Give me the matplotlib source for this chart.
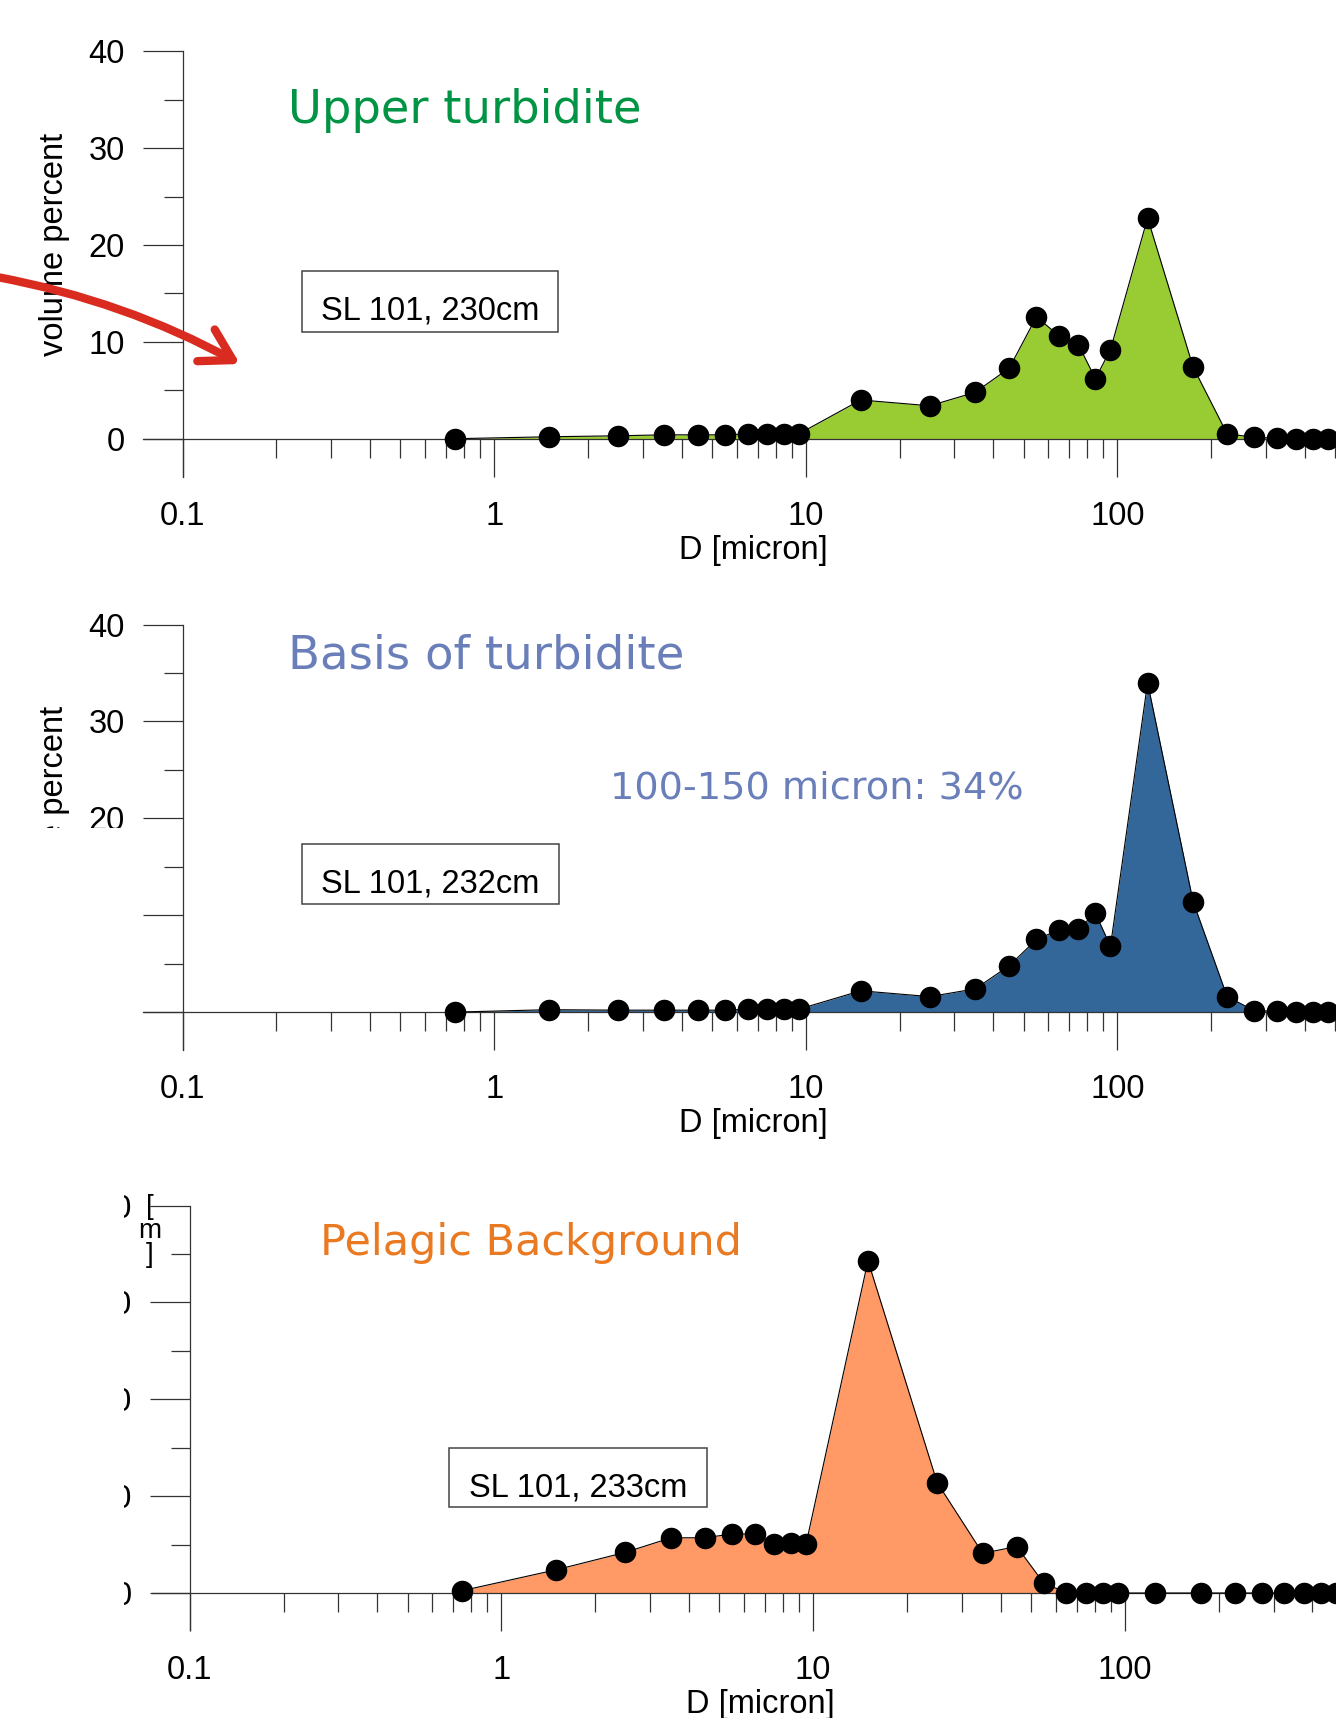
import matplotlib
matplotlib.use("Agg")
import matplotlib.pyplot as plt
from matplotlib.patches import Rectangle, FancyArrowPatch
from matplotlib.ticker import FixedLocator, FuncFormatter, NullFormatter

# ---------------------------------------------------------------------------
# Grain-size distributions, core SL 101 (volume percent per size class)
# ---------------------------------------------------------------------------
diameters = [0.75, 1.5, 2.5, 3.5, 4.5, 5.5, 6.5, 7.5, 8.5, 9.5,
             15, 25, 35, 45, 55, 65, 75, 85, 95,
             125, 175, 225, 275, 325, 375, 425, 475]

upper_turbidite = [0.0, 0.2, 0.3, 0.4, 0.4, 0.4, 0.5, 0.5, 0.5, 0.5,
                   4.0, 3.4, 4.8, 7.3, 12.6, 10.6, 9.7, 6.2, 9.2,
                   22.8, 7.4, 0.5, 0.15, 0.05, 0.0, 0.0, 0.0]

basis_turbidite = [0.0, 0.25, 0.2, 0.2, 0.2, 0.2, 0.3, 0.3, 0.3, 0.3,
                   2.2, 1.6, 2.4, 4.8, 7.5, 8.5, 8.6, 10.2, 6.8,
                   34.0, 11.4, 1.6, 0.15, 0.1, 0.0, 0.0, 0.0]

pelagic_background = [0.25, 2.4, 4.2, 5.7, 5.7, 6.1, 6.1, 5.1, 5.2, 5.1,
                      34.3, 11.4, 4.1, 4.8, 1.0, 0.05, 0.0, 0.0, 0.0,
                      0.0, 0.0, 0.0, 0.0, 0.0, 0.0, 0.0, 0.0]

titles = ["Upper turbidite", "Basis of turbidite", "Pelagic Background"]
samples = ["SL 101, 230cm", "SL 101, 232cm", "SL 101, 233cm"]
peak_note = "100-150 micron: 34%"

y_major = [0, 10, 20, 30, 40]
y_minor = [5, 15, 25, 35]
x_major = [0.1, 1, 10, 100, 1000]
x_minor = [k * 10.0 ** e for e in (-1, 0, 1, 2) for k in range(2, 10)]

# ---------------------------------------------------------------------------
W, H, DPI = 1336, 1718, 100
fig = plt.figure(figsize=(W / DPI, H / DPI), dpi=DPI)
fig.patch.set_facecolor("white")

TICK_FONT = ["Liberation Sans", "DejaVu Sans"]
TITLE_FONT = ["DejaVu Sans"]
AXIS_COLOR = "#333333"
LABEL_SIZE = 23.5


def fx(px):
    return px / W


def fy(py):
    return 1.0 - py / H


def make_panel(x01, decade, ytop, yzero, left, bottom):
    """Axes whose spines cross at D=0.1 / 0 %; the frame extends past the
    crossing point by the length of a major tick."""
    unit = (yzero - ytop) / 40.0
    ax = fig.add_axes([fx(left), fy(bottom), (W - left) / W, (bottom - ytop) / H])
    ax.set_xscale("log")
    ax.set_xlim(10 ** (-1 - (x01 - left) / decade), 10 ** (-1 + (W - x01) / decade))
    ax.set_ylim(-(bottom - yzero) / unit, 40)
    ax.patch.set_alpha(0)

    for s in ("top", "right"):
        ax.spines[s].set_visible(False)
    ax.spines["left"].set_position(("data", 0.1))
    ax.spines["bottom"].set_position(("data", 0))
    for s in ("left", "bottom"):
        ax.spines[s].set_color(AXIS_COLOR)
        ax.spines[s].set_linewidth(0.9)

    ax.yaxis.set_major_locator(FixedLocator(y_major))
    ax.yaxis.set_minor_locator(FixedLocator(y_minor))
    ax.xaxis.set_major_locator(FixedLocator(x_major))
    ax.xaxis.set_minor_locator(FixedLocator(x_minor))
    ax.xaxis.set_major_formatter(FuncFormatter(lambda v, p: f"{v:g}"))
    ax.xaxis.set_minor_formatter(NullFormatter())

    ax.tick_params(axis="y", which="major", direction="out", length=28.5,
                   width=0.9, color=AXIS_COLOR, pad=13.0, labelsize=LABEL_SIZE)
    ax.tick_params(axis="y", which="minor", direction="out", length=13.5,
                   width=0.9, color=AXIS_COLOR)
    ax.tick_params(axis="x", which="major", direction="out", length=27.2,
                   width=0.9, color=AXIS_COLOR, pad=17.5, labelsize=LABEL_SIZE)
    ax.tick_params(axis="x", which="minor", direction="out", length=13.5,
                   width=0.9, color=AXIS_COLOR)
    for lab in ax.get_xticklabels() + ax.get_yticklabels():
        lab.set_family(TICK_FONT)
    return ax


def draw_series(ax, values, fill):
    ax.fill_between(diameters, values, 0, color=fill, linewidth=0, zorder=1)
    ax.plot(diameters, values, color="black", lw=0.8, marker="o", ms=14.5,
            mfc="black", mec="black", zorder=3)


def sample_box(x0, y0, x1, y1, baseline, text):
    fig.add_artist(Rectangle((fx(x0), fy(y1)), (x1 - x0) / W, (y1 - y0) / H,
                             transform=fig.transFigure, fill=False,
                             ec="#444444", lw=1.1, zorder=4))
    fig.text(fx((x0 + x1) / 2), fy(baseline), text, ha="center", va="baseline",
             fontsize=LABEL_SIZE, family=TICK_FONT, color="black")


# Panel 1 -------------------------------------------------------------------
ax1 = make_panel(182.6, 311.6, 51.4, 438.7, 143, 476.5)
draw_series(ax1, upper_turbidite, "#99cc33")
fig.text(fx(288), fy(123.3), titles[0], ha="left", va="baseline",
         fontsize=33.4, family=TITLE_FONT, color="#009444")
sample_box(302, 271, 558, 331.5, 320, samples[0])
fig.text(fx(753.6), fy(559), "D [micron]", ha="center", va="baseline",
         fontsize=LABEL_SIZE, family=TICK_FONT)
fig.text(fx(55), fy(244), "volume percent", rotation=90, ha="center",
         va="center", fontsize=LABEL_SIZE, family=TICK_FONT)

# Panel 2 -------------------------------------------------------------------
ax2 = make_panel(182.6, 311.6, 624.6, 1012.1, 143, 1049.6)
draw_series(ax2, basis_turbidite, "#336699")
fig.text(fx(288), fy(668.3), titles[1], ha="left", va="baseline",
         fontsize=33.6, family=TITLE_FONT, color="#6a7fba")
fig.text(fx(610), fy(798.3), peak_note, ha="left", va="baseline",
         fontsize=27.5, family=TITLE_FONT, color="#6a7fba")
sample_box(302, 843.6, 558.5, 904.3, 892.5, samples[1])
fig.text(fx(753.6), fy(1132.2), "D [micron]", ha="center", va="baseline",
         fontsize=LABEL_SIZE, family=TICK_FONT)
fig.text(fx(55), fy(817.2), "volume percent", rotation=90, ha="center",
         va="center", fontsize=LABEL_SIZE, family=TICK_FONT)
fig.add_artist(Rectangle((0, fy(1055)), fx(137), (1055 - 828) / H,
                         transform=fig.transFigure, fc="white", ec="none",
                         zorder=10))

# Panel 3 -------------------------------------------------------------------
ax3 = make_panel(189.7, 311.7, 1205.5, 1593.0, 152, 1629.8)
draw_series(ax3, pelagic_background, "#ff9966")
fig.text(fx(320), fy(1255), titles[2], ha="left", va="baseline",
         fontsize=31.0, family=TITLE_FONT, color="#ea7a22")
sample_box(448.7, 1447.5, 707.3, 1507, 1496.3, samples[2])
fig.text(fx(760.7), fy(1713.3), "D [micron]", ha="center", va="baseline",
         fontsize=LABEL_SIZE, family=TICK_FONT)
fig.add_artist(Rectangle((0, fy(1645)), fx(123.5), (1645 - 1170) / H,
                         transform=fig.transFigure, fc="white", ec="none",
                         zorder=10))
for ch, base in (("[", 1214), ("m", 1238), ("]", 1262)):
    fig.text(fx(150), fy(base), ch, ha="center", va="baseline", fontsize=20,
             family=TICK_FONT, zorder=11)

# Red pointer arrow ---------------------------------------------------------
arrow = FancyArrowPatch((fx(-3), fy(277)), (fx(240), fy(364)),
                        transform=fig.transFigure,
                        connectionstyle="arc3,rad=-0.08",
                        arrowstyle="->,head_length=22,head_width=13",
                        mutation_scale=1, lw=6.0, color="#d92b1f",
                        shrinkA=0, shrinkB=0, zorder=12)
fig.add_artist(arrow)

fig.savefig("out.png", dpi=DPI, facecolor="white")
